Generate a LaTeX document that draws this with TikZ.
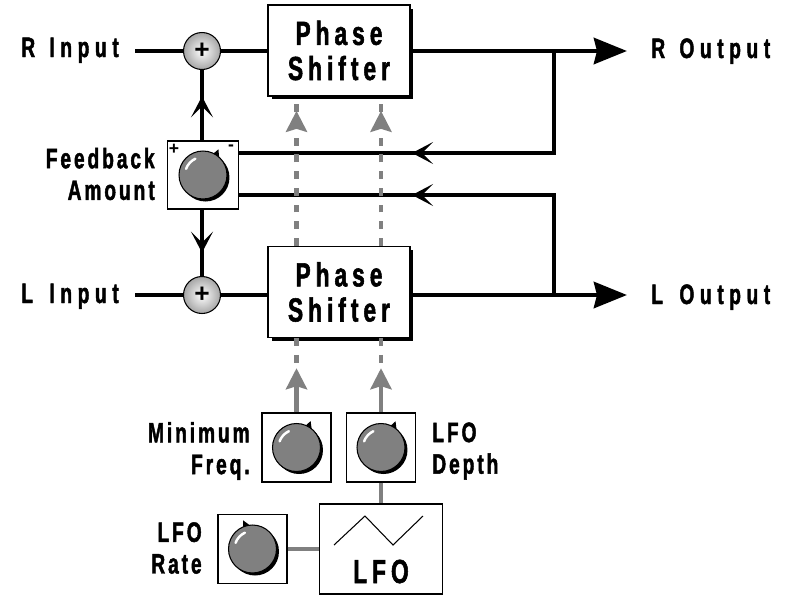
\documentclass[tikz,border=0pt]{standalone}
\usepackage{fontspec}
\setmainfont{Liberation Sans}[FakeStretch=0.68, LetterSpace=10.5, FakeBold=1.6]
\newfontfamily\plainfont{Liberation Sans}
\usetikzlibrary{positioning, calc, arrows.meta, shadows, decorations.markings}

\begin{document}
\begin{tikzpicture}[
    x=0.02cm, y=-0.02cm,
    sig/.style={line width=2.8pt},
    mod/.style={line width=2.4pt, gray, dash pattern=on 4.5pt off 5pt},
    modline/.style={line width=2.8pt, gray},
    sum/.style={circle, draw, line width=0.6pt, minimum size=0.74cm, inner sep=0pt,
      shading=radial, inner color=white, outer color=gray!70,
      font=\plainfont\bfseries\fontsize{15}{15}\selectfont},
    shifter/.style={draw, line width=0.8pt, fill=white, minimum width=2.84cm, minimum height=1.82cm,
      align=center, font=\bfseries\fontsize{19}{20}\selectfont\addfontfeature{LetterSpace=15},
      drop shadow={shadow xshift=0.07cm, shadow yshift=-0.07cm, opacity=1, fill=black}},
    knobbox/.style={draw, line width=0.7pt, fill=white, minimum width=1.38cm, minimum height=1.38cm},
    lbl/.style={font=\bfseries\fontsize{16}{18}\selectfont, inner sep=0pt},
    iolbl/.style={font=\bfseries\fontsize{16}{18}\selectfont\addfontfeature{LetterSpace=20}, inner sep=0pt},
    tiny/.style={font=\plainfont\bfseries\fontsize{10}{10}\selectfont, inner sep=0pt},
    outarrow/.style={-{Stealth[length=0.66cm, width=0.52cm, inset=0.06cm]}},
    midarrow/.style={postaction={decorate}, decoration={markings,
      mark=at position #1 with {\arrow{Stealth[length=0.42cm, width=0.44cm, inset=0.22cm]}}}},
    modarrow/.style={postaction={decorate}, decoration={markings,
      mark=at position #1 with {\arrow{Stealth[length=0.42cm, width=0.42cm, inset=0.06cm]}}}},
    modtip/.style={-{Stealth[length=0.42cm, width=0.42cm, inset=0.06cm]}},
    pics/knob/.style={code={
      \fill[black] (0.05cm,-0.05cm) circle (0.48cm);
      \fill[black] (#1-10:0.46cm) -- (#1+4:0.6cm) -- (#1+10:0.46cm) -- cycle;
      \draw[fill=gray, line width=0.6pt] (0,0) circle (0.48cm);
      \draw[white, line width=1.4pt, line cap=round] (115:0.36cm) arc (115:160:0.36cm);
    }}
  ]
  \useasboundingbox (0,0) rectangle (785,596);

  % summing points and phase shifters
  \node[sum] (sumR) at (202,51) {+};
  \node[sum] (sumL) at (202,295) {+};
  \node[shifter] (ps1) at (339,50.5) {Phase\\Shifter};
  \node[shifter] (ps2) at (339,292) {Phase\\Shifter};

  % feedback amount
  \node[knobbox, minimum width=1.42cm, minimum height=1.36cm] (fb) at (203,175) {};
  \pic at (fb.center) {knob=55};
  \node[tiny] (fbplus) at ($(fb.north west)+(7,9)$) {+};
  \node[tiny] (fbminus) at ($(fb.north east)+(-8,7)$) {-};

  % modulation section
  \node[knobbox] (minf) at (296.5,447.5) {};
  \pic at (minf.center) {knob=58};
  \node[knobbox] (depth) at (381,447.5) {};
  \pic at (depth.center) {knob=57};
  \node[knobbox] (rate) at (252.5,549) {};
  \pic at (rate.center) {knob=104};
  \node[draw, line width=0.7pt, fill=white, minimum width=2.46cm, minimum height=1.8cm] (lfo) at (381,549) {};
  \draw[line width=0.6pt] (334,545) -- (365,516) -- (393,545) -- (423,516);
  \node[lbl, font=\bfseries\fontsize{19}{20}\selectfont\addfontfeature{LetterSpace=15}, anchor=base] (lfotxt) at (381,583) {LFO};

  % labels
  \node[iolbl, anchor=base east] (rin) at (119,57) {\makebox[1.0em][l]{R}Input};
  \node[iolbl, anchor=base east] (lin) at (119,303) {\makebox[1.0em][l]{L}Input};
  \node[iolbl, anchor=base west] (rout) at (651,58) {\makebox[1.0em][l]{R}Output};
  \node[iolbl, anchor=base west] (lout) at (651,304) {\makebox[1.0em][l]{L}Output};
  \node[lbl, anchor=east, align=right] (fbtxt) at (155,174) {Feedback\\Amount};
  \node[lbl, anchor=east, align=right] (minftxt) at (250,451) {Minimum\\Freq.};
  \node[lbl, anchor=west, align=left] (depthtxt) at (432,451) {LFO\\Depth};
  \node[lbl, anchor=east, align=right] (ratetxt) at (202,548) {LFO\\Rate};

  \coordinate (rstart) at (135,51);
  \coordinate (lstart) at (135,295);
  \coordinate (rend) at (627,51);
  \coordinate (lend) at (627,295);
  \coordinate (jR) at (554,51);
  \coordinate (jL) at (554,295);

  % audio path
  \draw[sig] (rstart) -- (sumR.west);
  \draw[sig] (sumR.east) -- (sumR -| ps1.west);
  \draw[sig, outarrow] (sumR -| ps1.east) -- (rend);
  \draw[sig] (lstart) -- (sumL.west);
  \draw[sig] (sumL.east) -- (sumL -| ps2.west);
  \draw[sig, outarrow] (sumL -| ps2.east) -- (lend);

  % feedback loops
  \draw[sig, midarrow=4.88cm] (jR) |- ($(fb.east)+(0,-22)$);
  \draw[sig, midarrow=4.84cm] (jL) |- ($(fb.east)+(0,20)$);
  \draw[sig, midarrow=0.88cm] (sumR |- fb.north) -- (sumR.south);
  \draw[sig, midarrow=0.86cm] (sumL |- fb.south) -- (sumL.north);

  % modulation
  \draw[mod, modarrow=2.7cm] (minf |- ps2.north) -- (minf |- ps1.south);
  \draw[mod, modarrow=2.7cm] (depth |- ps2.north) -- (depth |- ps1.south);
  \coordinate (mtip1) at ($(minf |- ps2.south)+(0,30)$);
  \coordinate (mtip2) at ($(depth |- ps2.south)+(0,30)$);
  \draw[mod] (minf |- ps2.south) -- (mtip1);
  \draw[mod] (depth |- ps2.south) -- (mtip2);
  \draw[modline, modtip] (minf.north) -- (mtip1);
  \draw[modline, modtip] (depth.north) -- (mtip2);
  \draw[modline] (rate.east) -- (lfo.west);
  \draw[modline] (depth.south) -- (lfo.north);
\end{tikzpicture}
\end{document}
